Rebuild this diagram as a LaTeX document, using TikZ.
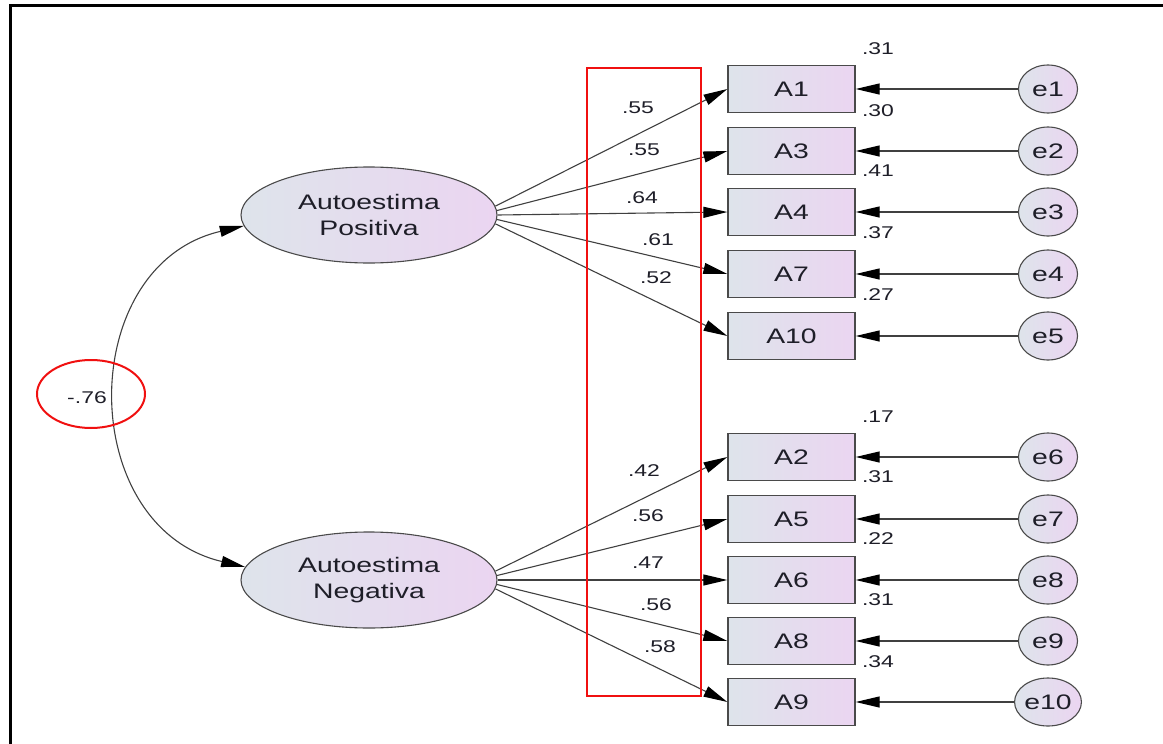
\documentclass[tikz,border=0pt]{standalone}
\usepackage{fontspec}
\setmainfont{Liberation Sans}[FakeStretch=1.35]
\usetikzlibrary{arrows.meta,shapes.geometric}
\definecolor{fillL}{HTML}{DEE4EB}
\definecolor{fillR}{HTML}{EBD5F1}
\definecolor{edge}{HTML}{4A4A4A}
\definecolor{txt}{HTML}{1E1E28}
\definecolor{redline}{HTML}{F01010}
\tikzset{
  latent/.style={ellipse,draw=edge,line width=1.1pt,left color=fillL,right color=fillR,
    minimum width=256pt,minimum height=96pt,inner sep=0pt,align=center,text=txt,
    font=\fontsize{21}{26}\selectfont},
  obsbox/.style={rectangle,draw=edge,line width=1.3pt,left color=fillL,right color=fillR,
    minimum width=127pt,minimum height=47pt,inner sep=0pt,text=txt,
    font=\fontsize{21}{24}\selectfont},
  errnode/.style={ellipse,draw=edge,line width=1.1pt,left color=fillL,right color=fillR,
    minimum width=59pt,minimum height=48pt,inner sep=0pt,text=txt,
    font=\fontsize{21}{24}\selectfont},
  lbl/.style={inner sep=0pt,text=txt,font=\fontsize{17}{20}\selectfont},
  tip/.style={Triangle[length=24pt,width=11pt,color=black]},
  path/.style={draw=black!75,line width=1.1pt,-{Triangle[length=24pt,width=11pt,color=black]}},
  redmark/.style={draw=redline,line width=2pt}
}
\begin{document}
\begin{tikzpicture}[x=1pt,y=-1pt]
\useasboundingbox (0,0) rectangle (1163,744);
% frame
\draw[line width=3pt] (10.5,744) -- (10.5,5.5) -- (1163,5.5);

% latent variables
\node[latent] (P) at (369,215) {Autoestima\\Positiva};
\node[latent] (N) at (369,580) {Autoestima\\Negativa};

% observed
\foreach \nm/\yy in {A1/89,A3/151,A4/212,A7/274,A10/336,A2/457,A5/519,A6/580,A8/641,A9/702}{
  \node[obsbox] (\nm) at (791.5,\yy) {\nm};
}
% errors
\foreach \e/\yy in {e1/89,e2/151,e3/212,e4/274,e5/336,e6/457,e7/519,e8/580,e9/641,e10/702}{
  \node[errnode] (\e) at (1048,\yy) {\e};
}

% loadings
\foreach \nm/\ang in {A1/4,A3/2,A4/0,A7/-2,A10/-4}{ \draw[path] (P.\ang) -- (\nm.west); }
\foreach \nm/\ang in {A2/4,A5/2,A6/0,A8/-2,A9/-4}{ \draw[path] (N.\ang) -- (\nm.west); }

% error paths
\draw[path] (e1) -- (A1.east);
\draw[path] (e2) -- (A3.east);
\draw[path] (e3) -- (A4.east);
\draw[path] (e4) -- (A7.east);
\draw[path] (e5) -- (A10.east);
\draw[path] (e6) -- (A2.east);
\draw[path] (e7) -- (A5.east);
\draw[path] (e8) -- (A6.east);
\draw[path] (e9) -- (A8.east);
\draw[path] (e10) -- (A9.east);

% covariance
\draw[draw=black!75,line width=1.1pt,{Triangle[length=24pt,width=11pt,color=black]}-{Triangle[length=24pt,width=11pt,color=black]}]
  (P.185) .. controls (75,265) and (75,527) .. (N.174);

% loading labels
\node[lbl] (l1) at (638,108) {.55};
\node[lbl] (l3) at (644,150) {.55};
\node[lbl] (l4) at (642,198) {.64};
\node[lbl] (l7) at (658,240) {.61};
\node[lbl] (l10) at (656,278) {.52};
\node[lbl] (l2) at (644,471) {.42};
\node[lbl] (l5) at (648,516) {.56};
\node[lbl] (l6) at (648,563) {.47};
\node[lbl] (l8) at (656,605) {.56};
\node[lbl] (l9) at (660,647) {.58};

% R-squared labels
\node[lbl] (r1) at (878,49) {.31};
\node[lbl] (r2) at (878,111) {.30};
\node[lbl] (r3) at (878,171) {.41};
\node[lbl] (r4) at (878,233) {.37};
\node[lbl] (r5) at (878,295) {.27};
\node[lbl] (r6) at (878,417) {.17};
\node[lbl] (r7) at (878,477) {.31};
\node[lbl] (r8) at (878,539) {.22};
\node[lbl] (r9) at (878,600) {.31};
\node[lbl] (r10) at (878,662) {.34};

% correlation label
\node[lbl] (cv) at (87,398) {-.76};

% red highlights
\node[redmark,ellipse,minimum width=108pt,minimum height=68pt,inner sep=0pt] (redel) at (91,394) {};
\draw[redmark] (587,68) rectangle (701,696);
\end{tikzpicture}
\end{document}
